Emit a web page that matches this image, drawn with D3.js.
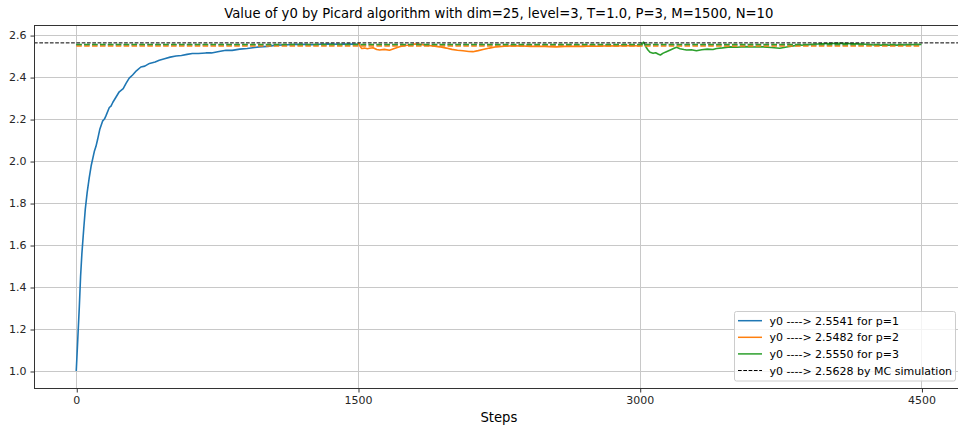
<!DOCTYPE html>
<html>
<head>
<meta charset="utf-8">
<script src="https://cdn.jsdelivr.net/npm/d3@7/dist/d3.min.js"></script>
<style>
  html, body { margin: 0; padding: 0; background: #fff; }
  svg { display: block; font-family: "DejaVu Sans", sans-serif; }
</style>
</head>
<body>
<svg id="chart" width="958" height="428"></svg>
<script>
// ---------- data ----------
const titleText = "Value of y0 by Picard algorithm with dim=25, level=3, T=1.0, P=3, M=1500, N=10";
const xLabel = "Steps";
const xTicks = [0, 1500, 3000, 4500];
const yTicks = [1.0, 1.2, 1.4, 1.6, 1.8, 2.0, 2.2, 2.4, 2.6];

const blueSteps = [0, 8, 16, 23, 30, 40, 48, 58, 69, 80, 96, 105, 113, 125, 140, 150, 158, 176, 185, 195, 212, 229, 250, 265, 282, 300, 320, 344, 365, 390, 420, 442, 470, 500, 531, 560, 590, 618, 650, 690, 720, 760, 797, 830, 870, 910, 950, 975, 1020, 1064, 1100, 1150, 1200, 1250, 1300, 1350, 1400, 1450, 1500];
const blueValues = [1.0, 1.15, 1.30, 1.45, 1.56, 1.68, 1.77, 1.85, 1.92, 1.98, 2.045, 2.07, 2.10, 2.15, 2.19, 2.20, 2.215, 2.255, 2.262, 2.28, 2.305, 2.33, 2.345, 2.37, 2.395, 2.41, 2.43, 2.448, 2.452, 2.465, 2.472, 2.48, 2.487, 2.495, 2.50, 2.503, 2.508, 2.512, 2.512, 2.515, 2.515, 2.522, 2.528, 2.527, 2.533, 2.536, 2.541, 2.544, 2.546, 2.552, 2.553, 2.555, 2.556, 2.554, 2.556, 2.557, 2.556, 2.557, 2.556];

const orangeSteps = [1500, 1505, 1512, 1520, 1535, 1550, 1561, 1580, 1600, 1615, 1640, 1668, 1690, 1721, 1750, 1780, 1800, 1828, 1860, 1900, 1934, 1970, 2000, 2030, 2059, 2090, 2112, 2140, 2165, 2200, 2236, 2280, 2330, 2378, 2420, 2470, 2520, 2556, 2600, 2650, 2700, 2733, 2780, 2830, 2880, 2930, 2970, 3000];
const orangeValues = [2.556, 2.560, 2.545, 2.536, 2.538, 2.535, 2.537, 2.540, 2.531, 2.529, 2.532, 2.528, 2.535, 2.544, 2.550, 2.553, 2.557, 2.556, 2.552, 2.548, 2.544, 2.538, 2.532, 2.528, 2.525, 2.522, 2.521, 2.526, 2.531, 2.538, 2.544, 2.547, 2.549, 2.548, 2.546, 2.547, 2.545, 2.544, 2.546, 2.547, 2.546, 2.548, 2.547, 2.549, 2.548, 2.550, 2.549, 2.548];

const greenSteps = [3000, 3008, 3015, 3021, 3030, 3044, 3055, 3071, 3085, 3100, 3110, 3125, 3142, 3160, 3180, 3196, 3215, 3235, 3249, 3275, 3302, 3330, 3360, 3390, 3409, 3440, 3480, 3520, 3560, 3600, 3657, 3700, 3746, 3790, 3835, 3880, 3930, 3970, 4012, 4060, 4101, 4150, 4200, 4250, 4279, 4330, 4380, 4430, 4470, 4500];
const greenValues = [2.548, 2.555, 2.562, 2.566, 2.548, 2.529, 2.518, 2.513, 2.516, 2.509, 2.505, 2.514, 2.521, 2.528, 2.536, 2.542, 2.535, 2.531, 2.529, 2.530, 2.525, 2.530, 2.533, 2.531, 2.536, 2.539, 2.544, 2.542, 2.545, 2.543, 2.544, 2.541, 2.537, 2.544, 2.551, 2.553, 2.556, 2.559, 2.560, 2.561, 2.560, 2.558, 2.556, 2.553, 2.552, 2.553, 2.552, 2.554, 2.555, 2.555];

const finalValues = [2.5541, 2.5482, 2.5550];
const mcValue = 2.5628;
const seriesNames = ["y0 ----> 2.5541 for p=1", "y0 ----> 2.5482 for p=2", "y0 ----> 2.5550 for p=3"];
const mcName = "y0 ----> 2.5628 by MC simulation";
const colors = ["#1f77b4", "#ff7f0e", "#2ca02c"];

// ---------- layout ----------
const svg = d3.select("#chart");
const L = 34, R = 963.7, T = 25, B = 388;

const x = d3.scaleLinear().domain([-225, 4725]).range([L, R]);
const y = d3.scaleLinear().domain([0.919, 2.648]).range([B, T]);

// grid
const grid = svg.append("g");
grid.selectAll(".gx").data(xTicks).join("line")
  .attr("x1", d => Math.round(x(d)) + 0.5).attr("x2", d => Math.round(x(d)) + 0.5)
  .attr("y1", T).attr("y2", B)
  .attr("stroke", "#c8c8c8").attr("stroke-width", 1);
grid.selectAll(".gy").data(yTicks).join("line")
  .attr("x1", L).attr("x2", R)
  .attr("y1", d => Math.round(y(d)) + 0.5).attr("y2", d => Math.round(y(d)) + 0.5)
  .attr("stroke", "#c8c8c8").attr("stroke-width", 1);

// clip
svg.append("clipPath").attr("id", "clip").append("rect")
  .attr("x", L).attr("y", T).attr("width", R - L).attr("height", B - T);
const plot = svg.append("g").attr("clip-path", "url(#clip)");

const line = d3.line().x(d => x(d[0])).y(d => y(d[1]));
const series = [
  d3.zip(blueSteps, blueValues),
  d3.zip(orangeSteps, orangeValues),
  d3.zip(greenSteps, greenValues)
];

series.forEach((s, i) => {
  plot.append("path").datum(s).attr("d", line)
    .attr("fill", "none").attr("stroke", colors[i]).attr("stroke-width", 1.6)
    .attr("stroke-linejoin", "round");
});

// final value dashed lines
finalValues.forEach((v, i) => {
  plot.append("line")
    .attr("x1", x(0)).attr("x2", x(4500))
    .attr("y1", y(v)).attr("y2", y(v))
    .attr("stroke", colors[i]).attr("stroke-width", 1.5)
    .attr("stroke-dasharray", "5.5,2.4");
});
// MC line
plot.append("line")
  .attr("x1", L).attr("x2", R)
  .attr("y1", y(mcValue)).attr("y2", y(mcValue))
  .attr("stroke", "#000").attr("stroke-width", 1)
  .attr("stroke-dasharray", "3.7,1.6");

// spines
const spine = svg.append("g").attr("stroke", "#333").attr("stroke-width", 1).attr("fill", "none");
spine.append("line").attr("x1", L + 0.5).attr("x2", L + 0.5).attr("y1", T).attr("y2", B + 0.5);
spine.append("line").attr("x1", L).attr("x2", R).attr("y1", B + 0.5).attr("y2", B + 0.5);
spine.append("line").attr("x1", L).attr("x2", R).attr("y1", T + 0.5).attr("y2", T + 0.5);

// axes
const xAxis = d3.axisBottom(x).tickValues(xTicks).tickSize(4).tickPadding(3.5).tickFormat(d3.format("d"));
const gx = svg.append("g").attr("transform", `translate(0,${B + 0.5})`).call(xAxis);
gx.select(".domain").remove();
gx.selectAll(".tick line").attr("stroke", "#333").attr("transform", "translate(0.5,0)");
gx.selectAll("text").attr("font-size", 11).attr("fill", "#262626").attr("font-family", "DejaVu Sans");

const yAxis = d3.axisLeft(y).tickValues(yTicks).tickSize(4).tickPadding(4).tickFormat(d3.format(".1f"));
const gy = svg.append("g").attr("transform", `translate(${L + 0.5},0)`).call(yAxis);
gy.select(".domain").remove();
gy.selectAll(".tick line").attr("stroke", "#333").attr("transform", "translate(0,0.5)");
gy.selectAll("text").attr("font-size", 11).attr("fill", "#262626").attr("font-family", "DejaVu Sans");

// title & label
svg.append("text").attr("x", (L + R) / 2).attr("y", 17.5)
  .attr("text-anchor", "middle").attr("font-size", 13.2).attr("fill", "#000")
  .text(titleText);
svg.append("text").attr("x", (L + R) / 2).attr("y", 422)
  .attr("text-anchor", "middle").attr("font-size", 13.2).attr("fill", "#000")
  .text(xLabel);

// legend
const lg = svg.append("g");
lg.append("rect").attr("x", 734.5).attr("y", 311.5).attr("width", 221).attr("height", 69.5)
  .attr("rx", 2).attr("fill", "#fff").attr("fill-opacity", 0.8).attr("stroke", "#cccccc");
const legendItems = seriesNames.map((n, i) => ({name: n, color: colors[i], dash: null, w: 1.5}))
  .concat([{name: mcName, color: "#000", dash: "3.7,1.6", w: 1}]);
legendItems.forEach((d, i) => {
  const cy = 320.7 + i * 16.6;
  lg.append("line").attr("x1", 738).attr("x2", 762).attr("y1", cy).attr("y2", cy)
    .attr("stroke", d.color).attr("stroke-width", d.w)
    .attr("stroke-dasharray", d.dash);
  lg.append("text").attr("x", 769.5).attr("y", cy + 4)
    .attr("font-size", 11).attr("fill", "#000").text(d.name);
});
</script>
</body>
</html>
